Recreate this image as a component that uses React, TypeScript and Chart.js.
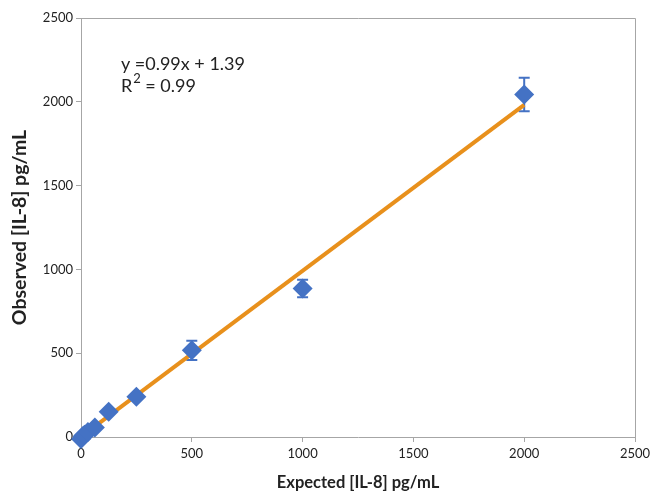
import React, { useEffect, useRef } from "react";
import { Chart, registerables } from "chart.js";

Chart.register(...registerables);

const expected = [0, 7.8, 15.6, 31.3, 62.5, 125, 250, 500, 1000, 2000];
const observed = [-12, 4, 14, 30, 56, 150, 240, 517, 886, 2043];
const errors = [0, 1, 1, 2, 4, 6, 10, 57, 52, 100];
const slope = 0.99;
const intercept = 1.39;
const fitRange = [0, 2000];
const axisTicks = [0, 500, 1000, 1500, 2000, 2500];
const equationText = "y =0.99x + 1.39";
const r2Text = "R";
const r2Value = " = 0.99";

const BLUE = "#4472C4";
const ORANGE = "#E8901C";
const AXIS = "#a6a6a6";
const FONT = "Lato, 'Open Sans', sans-serif";

export default function App() {
  const ref = useRef<HTMLCanvasElement | null>(null);

  useEffect(() => {
    document.body.style.margin = "0";
    const ctx = ref.current!.getContext("2d")!;

    const errorBars = {
      id: "errorBars",
      beforeDatasetsDraw(chart: any) {
        const xs = chart.scales.x;
        const ys = chart.scales.y;
        const c = chart.ctx;
        c.save();
        c.strokeStyle = BLUE;
        c.lineWidth = 2;
        expected.forEach((ex, i) => {
          const e = errors[i];
          if (!e) return;
          const px = xs.getPixelForValue(ex);
          const top = ys.getPixelForValue(observed[i] + e);
          const bot = ys.getPixelForValue(observed[i] - e);
          c.beginPath();
          c.moveTo(px, top);
          c.lineTo(px, bot);
          c.moveTo(px - 5.5, top);
          c.lineTo(px + 5.5, top);
          c.moveTo(px - 5.5, bot);
          c.lineTo(px + 5.5, bot);
          c.stroke();
        });
        c.restore();
      },
    };

    const frame = {
      id: "frame",
      afterDraw(chart: any) {
        const { left, right, top, bottom } = chart.chartArea;
        const c = chart.ctx;
        c.save();
        c.strokeStyle = AXIS;
        c.lineWidth = 1;
        c.beginPath();
        c.moveTo(left, top + 0.5);
        c.lineTo(right + 0.5, top + 0.5);
        c.lineTo(right + 0.5, bottom);
        c.stroke();
        // equation
        const xs = chart.scales.x;
        const ys = chart.scales.y;
        const tx = xs.getPixelForValue(180);
        c.fillStyle = "#222";
        c.font = `18px ${FONT}`;
        c.textBaseline = "alphabetic";
        c.textAlign = "left";
        const y1 = ys.getPixelForValue(2190);
        c.fillText(equationText, tx, y1);
        const y2 = y1 + 22;
        c.fillText(r2Text, tx, y2);
        const w = c.measureText(r2Text).width;
        c.font = `13px ${FONT}`;
        c.fillText("2", tx + w + 1, y2 - 9);
        const w2 = c.measureText("2").width;
        c.font = `18px ${FONT}`;
        c.fillText(r2Value, tx + w + w2 + 1, y2);
        c.restore();
      },
    };

    const chart = new Chart(ctx, {
      type: "scatter",
      data: {
        datasets: [
          {
            label: "Observed",
            data: expected.map((x, i) => ({ x, y: observed[i] })),
            pointStyle: "rectRot",
            pointRadius: 10,
            pointHoverRadius: 10,
            backgroundColor: BLUE,
            borderColor: BLUE,
            borderWidth: 0,
            clip: false,
            order: 0,
          } as any,
          {
            type: "line",
            label: "Fit",
            data: fitRange.map((x) => ({ x, y: slope * x + intercept })),
            borderColor: ORANGE,
            borderWidth: 4,
            pointRadius: 0,
            fill: false,
            order: 1,
          } as any,
        ],
      },
      options: {
        animation: false,
        responsive: true,
        maintainAspectRatio: false,
        layout: { padding: { top: 18, right: 15, left: 0, bottom: 0 } },
        plugins: { legend: { display: false }, tooltip: { enabled: false } },
        scales: {
          x: {
            type: "linear",
            min: 0,
            max: 2500,
            afterBuildTicks: (s: any) => {
              s.ticks = axisTicks.map((v) => ({ value: v }));
            },
            afterFit: (s: any) => {
              s.height = 58;
              s.paddingRight = 0;
            },
            ticks: {
              font: { family: FONT, size: 13 },
              color: "#222",
              padding: 4,
              maxRotation: 0,
              callback: (v: any) => String(v),
            },
            grid: {
              drawOnChartArea: false,
              drawTicks: true,
              tickLength: 5,
              color: AXIS,
            },
            border: { color: AXIS, width: 1 },
            title: {
              display: true,
              text: "Expected [IL-8] pg/mL",
              font: { family: FONT, size: 16.5, weight: "bold" },
              color: "#222",
              padding: { top: 0, bottom: 2 },
            },
          },
          y: {
            type: "linear",
            min: 0,
            max: 2500,
            afterBuildTicks: (s: any) => {
              s.ticks = axisTicks.map((v) => ({ value: v }));
            },
            afterFit: (s: any) => {
              s.width = 81;
            },
            ticks: {
              font: { family: FONT, size: 13 },
              color: "#222",
              padding: 3,
              callback: (v: any) => String(v),
            },
            grid: {
              drawOnChartArea: false,
              drawTicks: true,
              tickLength: 5,
              color: AXIS,
            },
            border: { color: AXIS, width: 1 },
            title: {
              display: true,
              text: "Observed [IL-8] pg/mL",
              font: { family: FONT, size: 19.5, weight: "bold" },
              color: "#222",
              padding: { top: 8, bottom: 0 },
            },
          },
        },
      },
      plugins: [errorBars, frame],
    });

    return () => chart.destroy();
  }, []);

  return (
    <div style={{ position: "fixed", left: 0, top: 0, width: 650, height: 495, background: "#fff" }}>
      <canvas ref={ref} />
    </div>
  );
}
